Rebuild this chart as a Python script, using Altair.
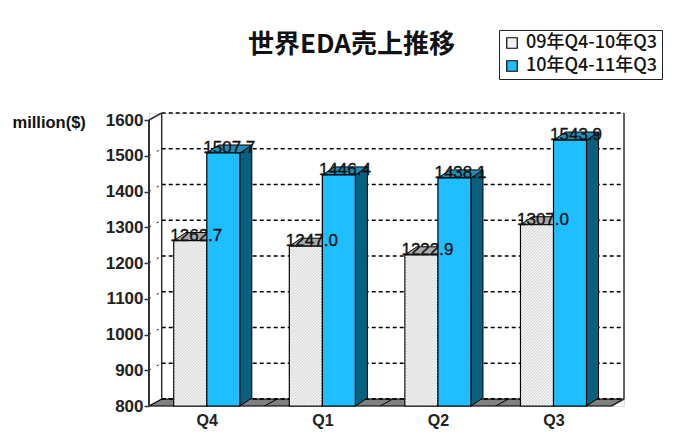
import altair as alt
import pandas as pd

quarters = ["Q4", "Q1", "Q2", "Q3"]
series_names = ["09年Q4-10年Q3", "10年Q4-11年Q3"]
sales_prev = [1262.7, 1247.0, 1222.9, 1307.0]
sales_curr = [1507.7, 1446.4, 1438.1, 1543.9]
tick_values = [800, 900, 1000, 1100, 1200, 1300, 1400, 1500, 1600]

W, H = 475, 293
WALL_DX, WALL_DY = 0.11, 19.6
BAR_DX, BAR_DY = 0.104, 22.4
BAR_W = 0.2857
GAP = (1 - 2 * BAR_W) / 2
xs = alt.Scale(domain=[0, 4 + WALL_DX], nice=False, zero=False)
ys = alt.Scale(domain=[800, 1600 + WALL_DY], nice=False, zero=False)
PX_X = (4 + WALL_DX) / W
PX_Y = (800 + WALL_DY) / H

FONT = "Liberation Sans"
CJK = "Noto Sans CJK JP"

x_axis = alt.Axis(values=[0.5, 1.5, 2.5, 3.5], domain=False, ticks=False, grid=False, title=None,
                  labelExpr="['Q4','Q1','Q2','Q3'][floor(datum.value)]",
                  labelFont=FONT, labelFontSize=16, labelFontWeight="bold", labelColor="#222222",
                  labelPadding=6)
y_axis = alt.Axis(values=tick_values, format="d", domain=False, grid=False, tickSize=5, tickColor="#333333",
                  tickWidth=1.5, labelFont=FONT, labelFontSize=17, labelFontWeight="bold",
                  labelColor="#222222", labelPadding=1,
                  title="million($)", titleAngle=0, titleX=-137, titleY=9, titleAlign="left",
                  titleBaseline="middle", titleFont=FONT, titleFontSize=16.5, titleFontWeight="bold",
                  titleColor="#111111")

bars = []
for i, q in enumerate(quarters):
    for s, vals in enumerate([sales_prev, sales_curr]):
        x0 = i + GAP + s * BAR_W
        bars.append(dict(q=q, series=series_names[s], s=s, v=vals[i], x0=x0, x1=x0 + BAR_W,
                         base=800, label=f"{vals[i]:.1f}", lx=x0 + BAR_W / 2 + BAR_DX / 2))
bars = pd.DataFrame(bars)

side = []
top = []
for _, b in bars.iterrows():
    side.append(dict(id=b.x0, s=b.s, x=b.x1, y=b.v, y2=800))
    side.append(dict(id=b.x0, s=b.s, x=b.x1 + BAR_DX, y=b.v + BAR_DY, y2=800 + BAR_DY))
    top.append(dict(id=b.x0, s=b.s, y=b.v, x=b.x0, x2=b.x1))
    top.append(dict(id=b.x0, s=b.s, y=b.v + BAR_DY, x=b.x0 + BAR_DX, x2=b.x1 + BAR_DX))
side = pd.DataFrame(side)
top = pd.DataFrame(top)

# hatch strokes for the lighter bars, clipped to each bar's front, rising to the right
hatch = []
PITCH = 3.0
for _, b in bars[bars.s == 0].iterrows():
    w = (b.x1 - b.x0) / PX_X - 1.5
    h = (b.v - 800) / PX_Y - 1.5
    left = b.x0 + 0.75 * PX_X
    bottom = 800 + 0.75 * PX_Y
    c = PITCH
    while c < w + h:
        ax, ay = (c, 0.0) if c <= w else (w, c - w)
        bx, by = (0.0, c) if c <= h else (c - h, h)
        hatch.append(dict(x=left + (w - ax) * PX_X, y=bottom + ay * PX_Y,
                          x2=left + (w - bx) * PX_X, y2=bottom + by * PX_Y))
        c += PITCH
hatch = pd.DataFrame(hatch)

grid = pd.DataFrame({"v": tick_values})
grid["yb"] = grid.v + WALL_DY
grid["x0"] = WALL_DX
grid["x1"] = 4 + WALL_DX
grid["xa"] = 0.0

floor = pd.DataFrame({"y": [800, 800 + WALL_DY], "x": [0, WALL_DX], "x2": [4, 4 + WALL_DX]})
dividers = pd.DataFrame({"x": [1, 2, 3], "y": [800] * 3, "x2": [1 + WALL_DX, 2 + WALL_DX, 3 + WALL_DX], "y2": [800 + WALL_DY] * 3})
wall_edges = pd.DataFrame({
    "x": [0, WALL_DX, 4 + WALL_DX, 4, 0],
    "y": [1600, 800 + WALL_DY, 800 + WALL_DY, 800, 800],
    "x2": [WALL_DX, WALL_DX, 4 + WALL_DX, 4 + WALL_DX, 0],
    "y2": [1600 + WALL_DY, 1600 + WALL_DY, 1600 + WALL_DY, 800 + WALL_DY, 1600],
    "w": [1.5, 1.5, 1.5, 1.5, 2],
})


def X(f, **k):
    return alt.X(f, type="quantitative", scale=xs, axis=x_axis, **k)


def Y(f, **k):
    return alt.Y(f, type="quantitative", scale=ys, axis=y_axis, **k)


grid_back = alt.Chart(grid).mark_rule(color="black", strokeWidth=1.6, strokeDash=[4, 3]).encode(
    x=X("x0:Q"), x2="x1:Q", y=Y("yb:Q"))
grid_side = alt.Chart(grid[(grid.v > 800) & (grid.v < 1600)]).mark_rule(color="black", strokeWidth=1, strokeDash=[2, 7]).encode(
    x=X("xa:Q"), x2="x0:Q", y=Y("v:Q"), y2="yb:Q")

floor_mark = alt.Chart(floor).mark_area(orient="horizontal", color="#808080", stroke="black", strokeWidth=1.2).encode(
    y=Y("y:Q"), x=X("x:Q"), x2="x2:Q")
div_mark = alt.Chart(dividers).mark_rule(color="black", strokeWidth=1).encode(
    x=X("x:Q"), x2="x2:Q", y=Y("y:Q"), y2="y2:Q")
edge_mark = alt.Chart(wall_edges).mark_rule(color="#333333").encode(
    x=X("x:Q"), x2="x2:Q", y=Y("y:Q"), y2="y2:Q", strokeWidth=alt.StrokeWidth("w:Q", scale=None))
top_dash = alt.Chart(grid[grid.v == 800]).mark_rule(color="black", strokeWidth=1.4, strokeDash=[4, 3]).encode(
    x=X("x0:Q"), x2="x1:Q", y=Y("yb:Q"))


def sides(s, color):
    return alt.Chart(side[side.s == s]).mark_area(color=color, stroke="black", strokeWidth=1).encode(
        x=X("x:Q"), y=Y("y:Q"), y2="y2:Q", detail="id:N")


def tops(s, color):
    return alt.Chart(top[top.s == s]).mark_area(orient="horizontal", color=color, stroke="black", strokeWidth=1).encode(
        y=Y("y:Q"), x=X("x:Q"), x2="x2:Q", detail="id:N")


fronts = alt.Chart(bars).mark_rect(stroke="black", strokeWidth=1.2).encode(
    x=X("x0:Q"), x2="x1:Q", y=Y("base:Q"), y2="v:Q",
    fill=alt.Fill("series:N", scale=alt.Scale(domain=series_names, range=["#f2f2f2", "#1fbfff"]),
                  legend=alt.Legend(
                      title=None, orient="none", legendX=350, legendY=-83, direction="vertical",
                      symbolType="square", symbolSize=110, symbolStrokeColor="black", symbolStrokeWidth=1.2,
                      labelFont=CJK, labelFontSize=18, labelFontWeight=500, labelColor="#111111", labelLimit=200,
                      rowPadding=5, strokeColor="#222222", padding=4, offset=0,
                      fillColor="white", labelOffset=5, symbolOffset=0)),
)

hatch_mark = alt.Chart(hatch).mark_rule(color="#d4d4d4", strokeWidth=1).encode(
    x=X("x:Q"), x2="x2:Q", y=Y("y:Q"), y2="y2:Q")

labels = alt.Chart(bars).mark_text(font=FONT, fontSize=17, baseline="alphabetic", align="center",
                                   color="#111111", stroke="#111111", strokeWidth=0.35).encode(
    x=X("lx:Q"), y=Y("v:Q"), text="label:N")

chart = alt.layer(
    grid_back, grid_side, floor_mark, top_dash, div_mark, edge_mark,
    sides(0, "#9a9a9a"), tops(0, "#ababab"), sides(1, "#08607f"), tops(1, "#1f8fb8"),
    fronts, hatch_mark, labels,
).properties(
    width=W, height=H,
    padding={"left": 141, "top": 105, "right": 68, "bottom": 25},
    autosize=alt.AutoSizeParams(type="none"),
    title=alt.TitleParams("世界EDA売上推移", font=CJK, fontSize=26, fontWeight="bold", color="#111111",
                          anchor="start", frame="group", dx=99, offset=0, dy=28),
).configure_view(stroke=None).configure(background="white")

chart.save("out.html", embed_options={"renderer": "svg", "actions": False})
